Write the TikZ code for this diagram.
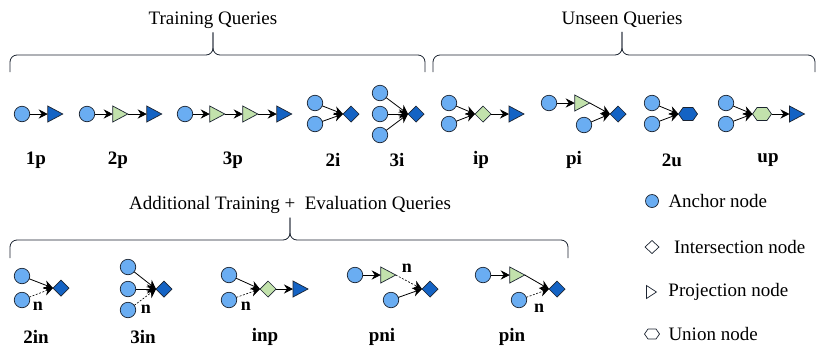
\documentclass[tikz,border=0pt]{standalone}
\usepackage{fontspec}
\setmainfont{Liberation Serif}
\usetikzlibrary{arrows.meta, positioning, shapes.geometric, shapes.symbols}
\definecolor{qAnchor}{HTML}{6AADF2}
\definecolor{qDark}{HTML}{1463C4}
\definecolor{qGreen}{HTML}{C2E2AC}
\definecolor{qLine}{HTML}{1B2330}

\begin{document}
\begin{tikzpicture}[
  x=1pt, y=-1pt,
  every node/.style={inner sep=0pt, outer sep=0pt},
  base/.style={draw=qLine, line width=0.7pt},
  anchornode/.style={base, circle, fill=qAnchor, minimum size=15.5pt},
  projnode/.style={base, isosceles triangle, isosceles triangle stretches,
    minimum width=16pt, minimum height=15pt, fill=qDark},
  greenproj/.style={projnode, fill=qGreen},
  internode/.style={base, diamond, minimum width=16pt, minimum height=16pt, fill=qDark},
  greeninter/.style={internode, fill=qGreen},
  unionnode/.style={base, signal, signal to=east and west, signal pointer angle=110,
    minimum width=19pt, minimum height=13pt, fill=qDark},
  greenunion/.style={unionnode, fill=qGreen},
  arrow/.style={-{Stealth[length=9pt,width=9pt]}, line width=0.8pt, draw=black},
  negarrow/.style={arrow, dash pattern=on 2pt off 1.5pt, line width=0.6pt},
  qlabel/.style={font=\fontsize{19}{22}\selectfont\bfseries},
  nlabel/.style={font=\fontsize{18}{20}\selectfont\bfseries},
  heading/.style={font=\fontsize{19}{22}\selectfont, outer sep=4pt},
  legendtext/.style={font=\fontsize{19}{22}\selectfont},
  brace/.style={draw=qLine, line width=0.8pt}
]
\useasboundingbox (0,0) rectangle (830,357);

% headings and braces
\node[heading] (tq) at (213,20) {Training Queries};
\node[heading] (uq) at (622,20) {Unseen Queries};
\node[heading] (eq) at (290,205) {Additional Training +\ \ Evaluation Queries};

\draw[brace] (10,72) -- (10,62) to[out=90,in=180] (17,55) -- (206,55) to[out=0,in=-90] (213,48) -- (tq.south);
\draw[brace] (tq.south) -- (213,48) to[out=-90,in=180] (220,55) -- (418,55) to[out=0,in=90] (425,62) -- (425,72);
\draw[brace] (433,72) -- (433,62) to[out=90,in=180] (440,55) -- (615,55) to[out=0,in=-90] (622,48) -- (uq.south);
\draw[brace] (uq.south) -- (622,48) to[out=-90,in=180] (629,55) -- (808,55) to[out=0,in=90] (815,62) -- (815,72);
\draw[brace] (10,258) -- (10,247) to[out=90,in=180] (17,240) -- (283,240) to[out=0,in=-90] (290,233) -- (eq.south);
\draw[brace] (eq.south) -- (290,233) to[out=-90,in=180] (297,240) -- (561,240) to[out=0,in=90] (568,247) -- (568,258);

% training queries
\node[anchornode] (a1p) at (22,114) {};
\node[projnode, right=18pt of a1p] (p1p) {};
\draw[arrow] (a1p) -- (p1p);
\node[qlabel] (l1p) at (36,160) {1p};

\node[anchornode] (a2p) at (87,114) {};
\node[greenproj, right=18pt of a2p] (g2p) {};
\node[projnode, right=19pt of g2p] (p2p) {};
\draw[arrow] (a2p) -- (g2p);
\draw[arrow] (g2p) -- (p2p);
\node[qlabel] (l2p) at (118,160) {2p};

\node[anchornode] (a3p) at (185,114) {};
\node[greenproj, right=17pt of a3p] (g3p) {};
\node[greenproj, right=18pt of g3p] (h3p) {};
\node[projnode, right=19pt of h3p] (p3p) {};
\draw[arrow] (a3p) -- (g3p);
\draw[arrow] (g3p) -- (h3p);
\draw[arrow] (h3p) -- (p3p);
\node[qlabel] (l3p) at (233,160) {3p};

\node[anchornode] (a2i) at (315,103) {};
\node[anchornode] (b2i) at (315,124) {};
\node[internode] (d2i) at (351,114) {};
\draw[arrow] (a2i) -- (d2i.west);
\draw[arrow] (b2i) -- (d2i.west);
\node[qlabel] (l2i) at (333,160) {2i};

\node[anchornode] (a3i) at (380,93) {};
\node[anchornode] (b3i) at (380,114) {};
\node[anchornode] (c3i) at (380,135) {};
\node[internode] (d3i) at (416,114) {};
\draw[arrow] (a3i) -- (d3i.west);
\draw[arrow] (b3i) -- (d3i.west);
\draw[arrow] (c3i) -- (d3i.west);
\node[qlabel] (l3i) at (397,160) {3i};

% unseen queries
\node[anchornode] (aip) at (449,103) {};
\node[anchornode] (bip) at (449,124) {};
\node[greeninter] (gip) at (483,114) {};
\node[projnode, right=18pt of gip] (pip) {};
\draw[arrow] (aip) -- (gip.west);
\draw[arrow] (bip) -- (gip.west);
\draw[arrow] (gip) -- (pip);
\node[qlabel] (lip) at (481,160) {ip};

\node[anchornode] (api) at (549,103) {};
\node[greenproj, right=18pt of api] (gpi) {};
\node[anchornode] (bpi) at (584,125) {};
\node[internode] (dpi) at (618,114) {};
\draw[arrow] (api) -- (gpi);
\draw[arrow] (gpi.apex) -- (dpi.west);
\draw[arrow] (bpi) -- (dpi.west);
\node[qlabel] (lpi) at (574,160) {pi};

\node[anchornode] (a2u) at (652,103) {};
\node[anchornode] (b2u) at (652,124) {};
\node[unionnode] (u2u) at (688,114) {};
\draw[arrow] (a2u) -- (u2u.west);
\draw[arrow] (b2u) -- (u2u.west);
\node[qlabel] (l2u) at (672,160) {2u};

\node[anchornode] (aup) at (726,103) {};
\node[anchornode] (bup) at (726,124) {};
\node[greenunion] (gup) at (762,114) {};
\node[projnode, right=18pt of gup] (pup) {};
\draw[arrow] (aup) -- (gup.west);
\draw[arrow] (bup) -- (gup.west);
\draw[arrow] (gup) -- (pup);
\node[qlabel] (lup) at (768,160) {up};

% additional training + evaluation queries
\node[anchornode] (a2in) at (22,276) {};
\node[anchornode] (b2in) at (22,300) {};
\node[internode] (d2in) at (61,288) {};
\draw[arrow] (a2in) -- (d2in.west);
\draw[negarrow] (b2in) -- (d2in.west);
\node[nlabel] (n2in) at (38,306) {n};
\node[qlabel] (l2in) at (36,337) {2in};

\node[anchornode] (a3in) at (128,267) {};
\node[anchornode] (b3in) at (128,289) {};
\node[anchornode] (c3in) at (128,310) {};
\node[internode] (d3in) at (164,289) {};
\draw[arrow] (a3in) -- (d3in.west);
\draw[arrow] (b3in) -- (d3in.west);
\draw[negarrow] (c3in) -- (d3in.west);
\node[nlabel] (n3in) at (146,309) {n};
\node[qlabel] (l3in) at (143,337) {3in};

\node[anchornode] (ainp) at (229,275) {};
\node[anchornode] (binp) at (229,300) {};
\node[greeninter] (ginp) at (268,289) {};
\node[projnode, right=17pt of ginp] (pinp) {};
\draw[arrow] (ainp) -- (ginp.west);
\draw[negarrow] (binp) -- (ginp.west);
\draw[arrow] (ginp) -- (pinp);
\node[nlabel] (ninp) at (246,306) {n};
\node[qlabel] (linp) at (265,337) {inp};

\node[anchornode] (apni) at (355,275) {};
\node[greenproj, right=18pt of apni] (gpni) {};
\node[anchornode] (bpni) at (391,300) {};
\node[internode] (dpni) at (430,289) {};
\draw[arrow] (apni) -- (gpni);
\draw[negarrow] (gpni.apex) -- (dpni.west);
\draw[arrow] (bpni) -- (dpni.west);
\node[nlabel] (npni) at (407,268) {n};
\node[qlabel] (lpni) at (382,337) {pni};

\node[anchornode] (apin) at (483,275) {};
\node[greenproj, right=19pt of apin] (gpin) {};
\node[anchornode] (bpin) at (519,300) {};
\node[internode] (dpin) at (557,289) {};
\draw[arrow] (apin) -- (gpin);
\draw[arrow] (gpin.apex) -- (dpin.west);
\draw[negarrow] (bpin) -- (dpin.west);
\node[nlabel] (npin) at (539,308) {n};
\node[qlabel] (lpin) at (512,337) {pin};

% legend
\node[anchornode, minimum size=13pt] (lanc) at (652,201) {};
\node[legendtext, right=10pt of lanc] (tanc) {Anchor node};
\node[internode, fill=white, minimum width=14pt, minimum height=13pt] (lint) at (652,247) {};
\node[legendtext, right=15pt of lint] (tint) {Intersection node};
\node[projnode, fill=white, minimum width=13pt, minimum height=10pt] (lproj) at (650,292) {};
\node[legendtext, right=12pt of lproj] (tproj) {Projection node};
\node[unionnode, fill=white, minimum width=15pt, minimum height=10pt] (luni) at (652,334) {};
\node[legendtext, right=9pt of luni] (tuni) {Union node};
\end{tikzpicture}
\end{document}
